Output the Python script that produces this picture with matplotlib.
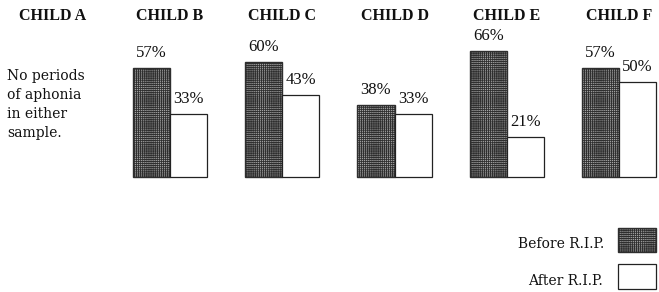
import matplotlib
matplotlib.use("Agg")
import matplotlib.pyplot as plt
from matplotlib.patches import Rectangle

children = ["CHILD A", "CHILD B", "CHILD C", "CHILD D", "CHILD E", "CHILD F"]
before_rip = [None, 57, 60, 38, 66, 57]
after_rip = [None, 33, 43, 33, 21, 50]
note_child_a = "No periods\nof aphonia\nin either\nsample."
legend_labels = ["Before R.I.P.", "After R.I.P."]

plt.rcParams["hatch.linewidth"] = 0.6

fig = plt.figure(figsize=(6.59, 2.92), dpi=100)
ax = fig.add_axes([0, 0, 1, 1])
ax.set_xlim(-0.5145, 5.3563)
ax.set_ylim(-59.64, 92.45)
ax.axis("off")

dark_face = "#a4a4a4"
dark_edge = "#2e2e2e"
hatch = "++++++++"
w = 0.33
serif = ["Liberation Serif", "DejaVu Serif"]

for i, name in enumerate(children):
    dx = -0.05 if i == 0 else 0.0
    ax.text(i + dx, 1 - 16 / 292, name, transform=ax.get_xaxis_transform(),
            ha="center", va="center", fontsize=11.5, fontweight="bold",
            family=serif, color="#111")
    b = before_rip[i]
    a = after_rip[i]
    if b is None:
        continue
    ax.bar(i - w / 2, b, width=w, facecolor=dark_face, edgecolor=dark_edge,
           hatch=hatch, linewidth=1.0)
    ax.bar(i + w / 2, a, width=w, facecolor="white", edgecolor="#222",
           linewidth=0.9)
    ax.annotate(f"{b}%", (i - w / 2, b), xytext=(0, 5), textcoords="offset points",
                ha="center", va="bottom", fontsize=12, family=serif, color="#111")
    ax.annotate(f"{a}%", (i + w / 2, a), xytext=(0, 5), textcoords="offset points",
                ha="center", va="bottom", fontsize=12, family=serif, color="#111")

fig.text(7 / 659, 1 - 69 / 292, note_child_a, ha="left", va="top",
         fontsize=10, family=["DejaVu Serif"], linespacing=1.45, color="#111")

# legend
fig.text(604 / 659, 1 - 244 / 292, legend_labels[0], ha="right", va="center",
         fontsize=10, family=["DejaVu Serif"], color="#111")
fig.text(603 / 659, 1 - 281 / 292, legend_labels[1], ha="right", va="center",
         fontsize=10, family=["DejaVu Serif"], color="#111")
fig.patches.append(Rectangle((618 / 659, 1 - 252 / 292), 38 / 659, 24 / 292,
                             transform=fig.transFigure, facecolor=dark_face,
                             edgecolor=dark_edge, hatch=hatch, linewidth=1.0))
fig.patches.append(Rectangle((618 / 659, 1 - 289 / 292), 38 / 659, 25 / 292,
                             transform=fig.transFigure, facecolor="white",
                             edgecolor="#222", linewidth=0.9))

fig.savefig("out.png", dpi=100, facecolor="white")
